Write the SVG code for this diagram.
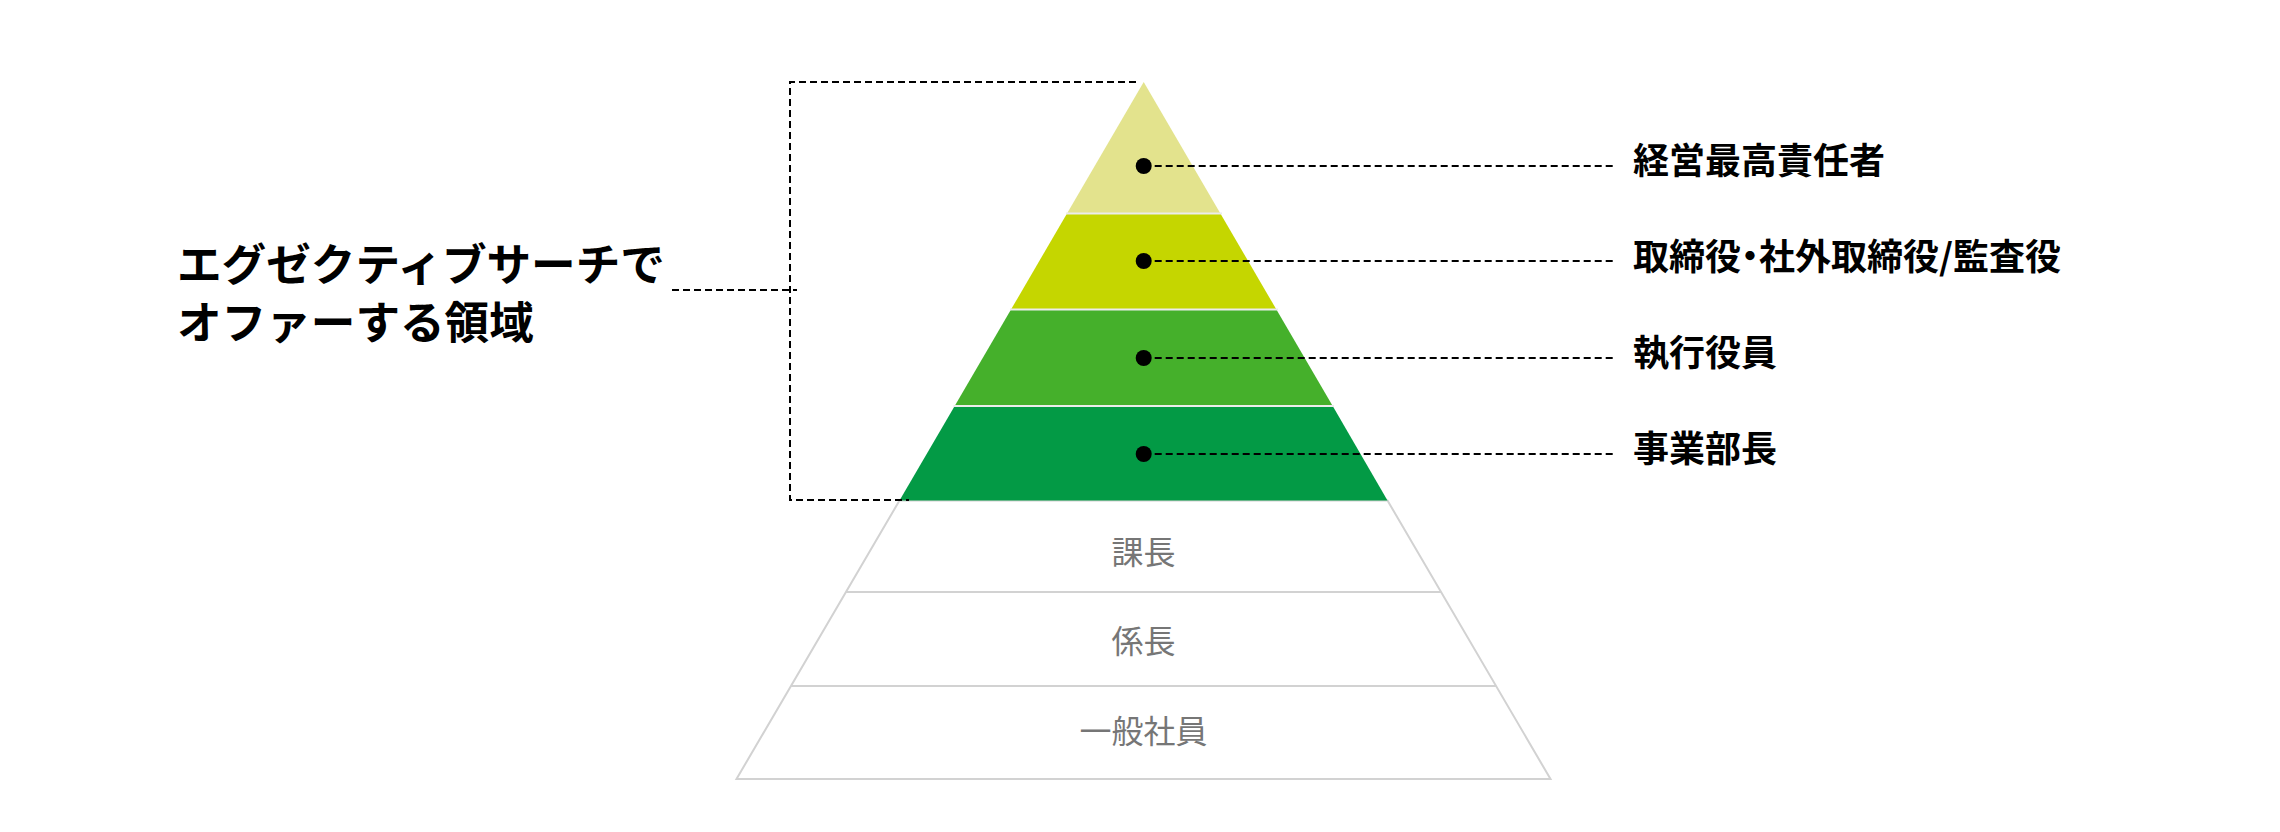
<svg xmlns="http://www.w3.org/2000/svg" width="2280" height="832" viewBox="0 0 2280 832">
<style>
.dash{fill:none;stroke:#000;stroke-width:2;stroke-dasharray:7 4}
.sep{stroke:#ececec;stroke-width:2}
.gsep{stroke:#d2d2d2;stroke-width:2}
.lbl{font-family:"Noto Sans CJK JP","Noto Sans CJK SC",sans-serif;font-weight:700;font-size:36px;fill:#000}
.big{font-family:"Noto Sans CJK JP","Noto Sans CJK SC",sans-serif;font-weight:700;font-size:44.6px;fill:#000}
.gray{font-family:"Noto Sans CJK JP","Noto Sans CJK SC",sans-serif;font-weight:400;font-size:32px;fill:#767676}
.half{font-feature-settings:"halt"}
</style>
<rect width="2280" height="832" fill="#fff"/>
<g id="lower">
<polygon points="899.5,500.5 1387.5,500.5 1550.5,779 736.5,779" fill="#fff" stroke="#d2d2d2" stroke-width="2"/>
<line class="gsep" x1="846" y1="592" x2="1441" y2="592"/>
<line class="gsep" x1="791" y1="686" x2="1496" y2="686"/>
</g>
<g id="layer-kacho"><text class="gray" x="1143.5" y="564" text-anchor="middle">課長</text></g>
<g id="layer-kakaricho"><text class="gray" x="1143.5" y="653" text-anchor="middle">係長</text></g>
<g id="layer-ippan"><text class="gray" x="1143.5" y="743" text-anchor="middle">一般社員</text></g>
<g id="layer-ceo"><polygon points="1143.7,82 1220.4,213.5 1067,213.5" fill="#e3e38d"/></g>
<g id="layer-torishimari"><polygon points="1067,213.5 1220.4,213.5 1276.4,309.5 1011,309.5" fill="#c5d600"/></g>
<g id="layer-shikko"><polygon points="1011,309.5 1276.4,309.5 1332.7,406 954.7,406" fill="#45b02b"/></g>
<g id="layer-jigyobucho"><polygon points="954.7,406 1332.7,406 1387.5,500.5 899.5,500.5" fill="#039a45"/></g>
<g id="separators">
<line class="sep" x1="1066" y1="213.5" x2="1222" y2="213.5"/>
<line class="sep" x1="1010" y1="309.5" x2="1278" y2="309.5"/>
<line class="sep" x1="953.5" y1="406" x2="1334" y2="406"/>
</g>
<g id="connectors">
<polyline class="dash" points="1136,82 790,82 790,500 909,500"/>
<line class="dash" x1="672" y1="290" x2="797" y2="290"/>
<line class="dash" x1="1143.7" y1="166" x2="1616" y2="166"/>
<line class="dash" x1="1143.7" y1="261" x2="1616" y2="261"/>
<line class="dash" x1="1143.7" y1="358" x2="1616" y2="358"/>
<line class="dash" x1="1143.7" y1="454" x2="1616" y2="454"/>
<circle cx="1143.7" cy="166" r="8" fill="#000"/>
<circle cx="1143.7" cy="261" r="8" fill="#000"/>
<circle cx="1143.7" cy="358" r="8" fill="#000"/>
<circle cx="1143.7" cy="454" r="8" fill="#000"/>
</g>
<g id="label-left">
<text class="big" x="177" y="281">エグゼクティブサーチで</text>
<text class="big" x="177" y="339">オファーする領域</text>
</g>
<g id="label-ceo"><text class="lbl" x="1633" y="174">経営最高責任者</text></g>
<g id="label-torishimari"><text class="lbl half" x="1633" y="270">取締役・社外取締役/監査役</text></g>
<g id="label-shikko"><text class="lbl" x="1633" y="366">執行役員</text></g>
<g id="label-jigyobucho"><text class="lbl" x="1633" y="462">事業部長</text></g>
</svg>
